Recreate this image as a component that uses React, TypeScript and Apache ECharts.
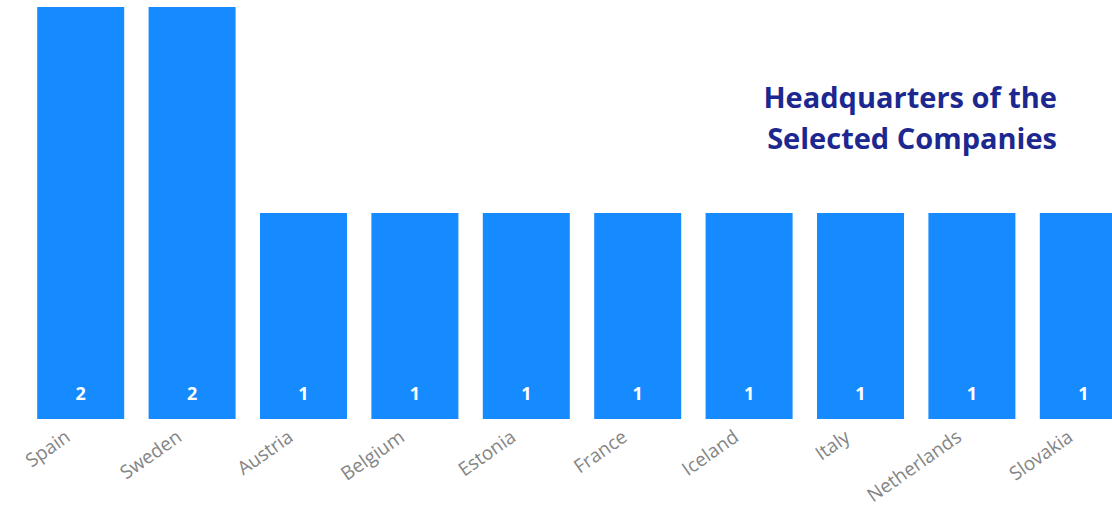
import React, { useEffect, useRef } from "react";
import * as echarts from "echarts";

const categories = ["Spain", "Sweden", "Austria", "Belgium", "Estonia", "France", "Iceland", "Italy", "Netherlands", "Slovakia"];
const counts = [2, 2, 1, 1, 1, 1, 1, 1, 1, 1];
const titleLines = ["Headquarters of the", "Selected Companies"];

export default function App() {
  const ref = useRef<HTMLDivElement>(null);
  useEffect(() => {
    if (!ref.current) return;
    const chart = echarts.init(ref.current, null, { renderer: "svg" });
    chart.setOption({
      animation: false,
      graphic: [
        {
          type: "text",
          x: 1057,
          y: 76,
          style: {
            text: titleLines.join("\n"),
            textAlign: "right",
            verticalAlign: "top",
            fontFamily: "Open Sans",
            fontWeight: "bold",
            fontSize: 29,
            lineHeight: 41,
            fill: "#1C2890",
          },
        },
      ],
      grid: { left: 25, right: 1, top: 7, bottom: 96, containLabel: false },
      xAxis: {
        type: "category",
        data: categories,
        axisLine: { show: false },
        axisTick: { show: false },
        axisLabel: {
          rotate: 35,
          interval: 0,
          margin: 6,
          padding: [0, 16, 0, 0],
          fontFamily: "Open Sans",
          fontSize: 19,
          color: "#858585",
        },
      },
      yAxis: {
        type: "value",
        min: 0,
        max: 2,
        show: false,
      },
      series: [
        {
          type: "bar",
          data: counts,
          barWidth: 87,
          itemStyle: { color: "#168BFF" },
          label: {
            show: true,
            position: "insideBottom",
            distance: 17,
            fontFamily: "Open Sans",
            fontWeight: "bold",
            fontSize: 18,
            color: "#FFFFFF",
          },
        },
      ],
    });
    return () => chart.dispose();
  }, []);
  return (
    <div style={{ position: "fixed", left: 0, top: 0, width: 1112, height: 515, overflow: "hidden", background: "#fff" }}>
      <div ref={ref} style={{ width: 1140, height: 515 }} />
    </div>
  );
}
